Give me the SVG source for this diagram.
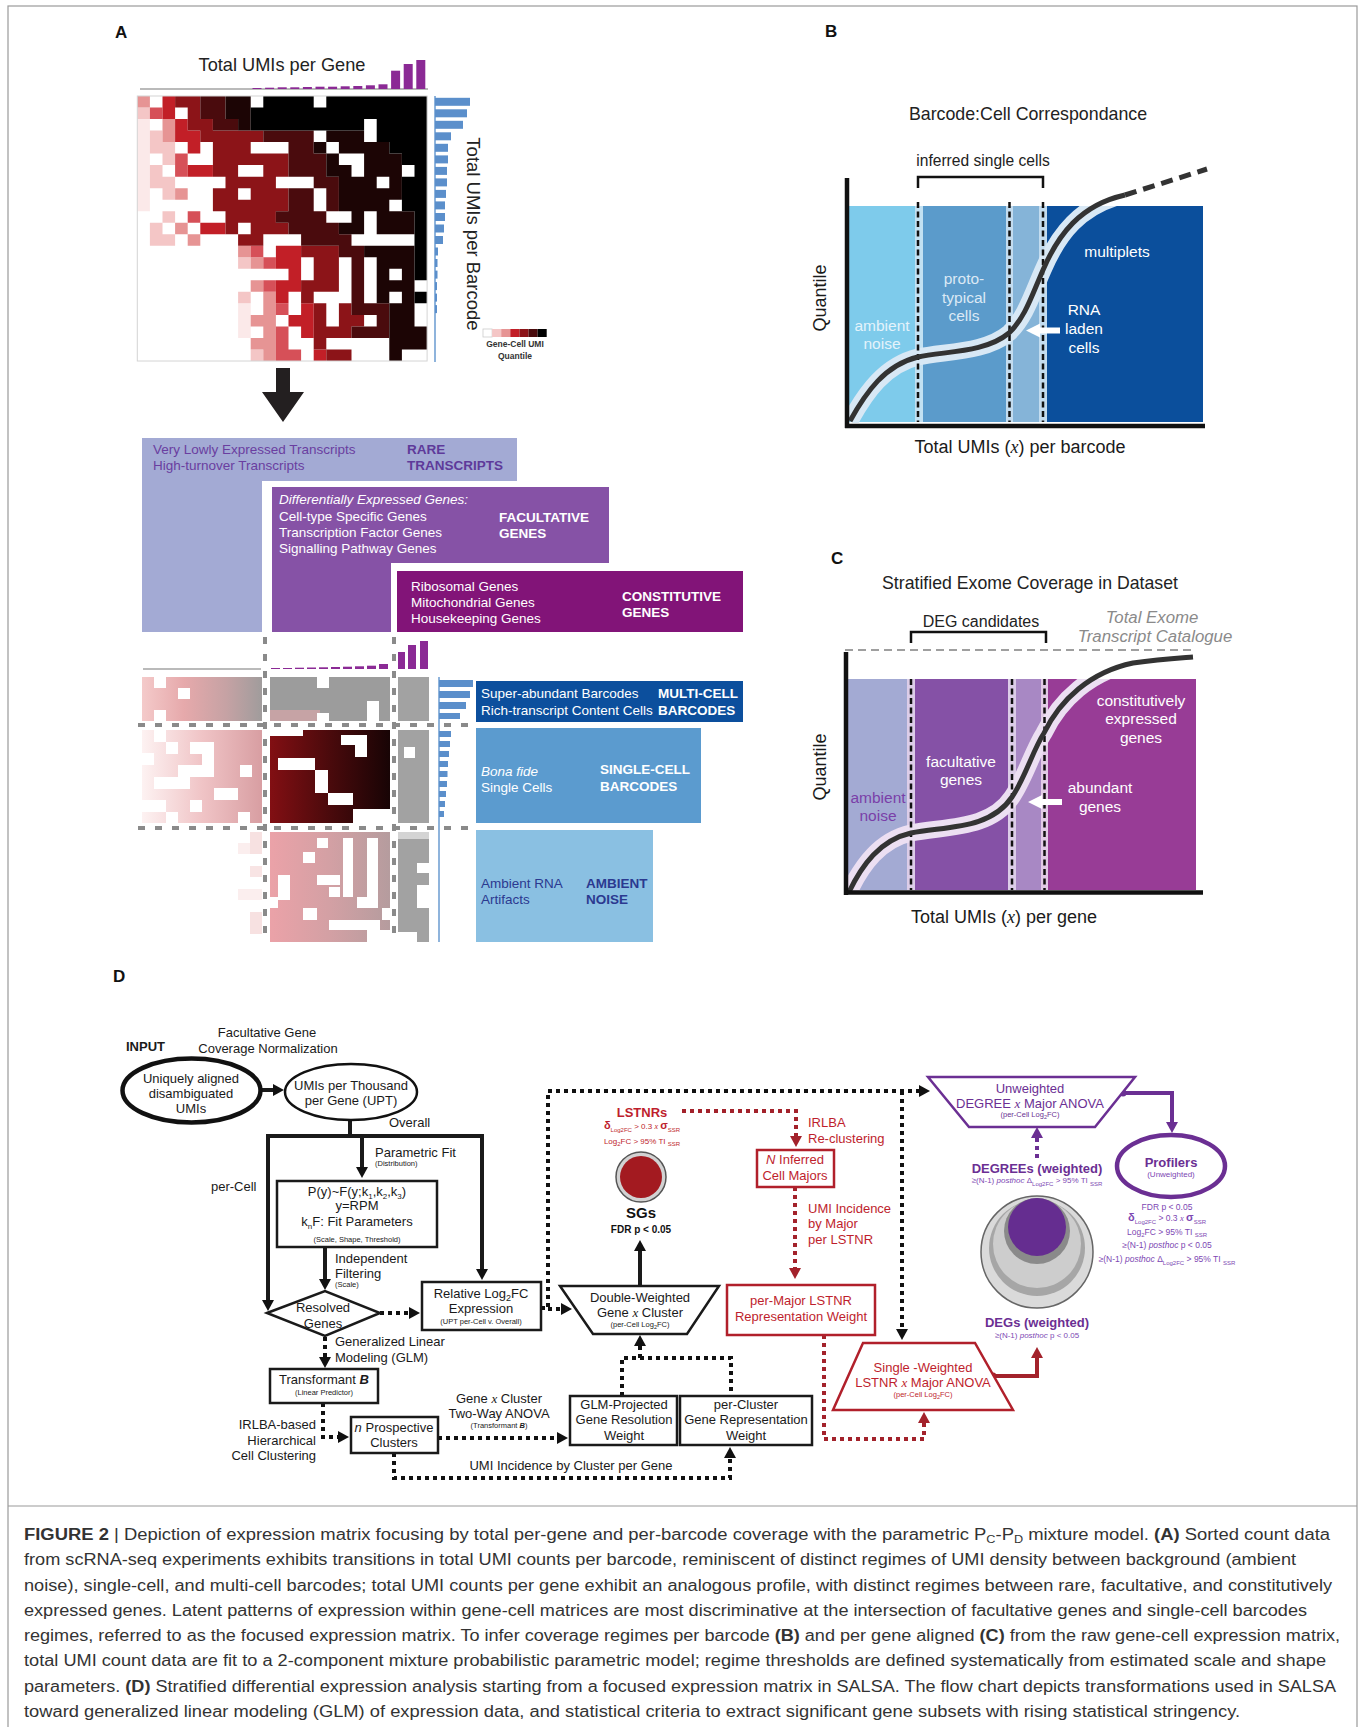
<svg xmlns="http://www.w3.org/2000/svg" width="1360" height="1727" viewBox="0 0 1360 1727">
<defs>
<style>
text{font-family:"Liberation Sans",Arial,Helvetica,sans-serif}
.lab{font-weight:bold;font-size:17px;fill:#111}
.w{fill:#fff}
.b{font-weight:bold}
.xs{font-family:"Liberation Serif","Times New Roman",serif;font-style:italic}
.ax{font-size:18px;fill:#1a1a1a}
.d{font-size:13px;fill:#1a1a1a}
.s{font-size:7.5px}
.r{fill:#be1e2d}
.p{fill:#6b2f93}
.pl{fill:#7d47b3}
.wh{fill:#fff}
.box{fill:#fff;stroke:#1a1a1a;stroke-width:2.5}
.rbox{fill:#fff;stroke:#b1202b;stroke-width:2.5}
.pbox{fill:#fff;stroke:#6b2f93;stroke-width:2.5}
.sol{fill:none;stroke:#1a1a1a;stroke-width:4}
.dot{fill:none;stroke:#111;stroke-width:4;stroke-dasharray:4 4}
.rdot{fill:none;stroke:#a3222b;stroke-width:4;stroke-dasharray:4 4}
.pdot{fill:none;stroke:#6b2f93;stroke-width:4;stroke-dasharray:4 4}
.gd{fill:none;stroke:#8a8a8a;stroke-width:4;stroke-dasharray:7 10}
.vd{fill:none;stroke:#111;stroke-width:2.5;stroke-dasharray:6 3.5}
.cap{font-size:16px;fill:#333}
.pb{fill:#8b2a95}
.bb{fill:#5b8fcb}
.at{font-size:13.5px}
.atb{font-size:13.5px;font-weight:bold}
.rl{font-size:15.5px;text-anchor:middle}
</style>
<marker id="ak" markerUnits="userSpaceOnUse" markerWidth="12" markerHeight="12" refX="0" refY="6" orient="auto"><path d="M0,0L11,6L0,12z" fill="#111"/></marker>
<marker id="ar" markerUnits="userSpaceOnUse" markerWidth="12" markerHeight="12" refX="0" refY="6" orient="auto"><path d="M0,0L11,6L0,12z" fill="#a3222b"/></marker>
<marker id="ap" markerUnits="userSpaceOnUse" markerWidth="12" markerHeight="12" refX="0" refY="6" orient="auto"><path d="M0,0L11,6L0,12z" fill="#6b2f93"/></marker>
<linearGradient id="gRM"><stop offset="0" stop-color="#f4caca"/><stop offset="0.35" stop-color="#e6a9ab"/><stop offset="0.7" stop-color="#c6a2a4"/><stop offset="1" stop-color="#a09c9c"/></linearGradient>
<linearGradient id="gRS"><stop offset="0" stop-color="#fdf2f2"/><stop offset="0.5" stop-color="#f0c4c6"/><stop offset="1" stop-color="#d89ea2"/></linearGradient>
<linearGradient id="gFS"><stop offset="0" stop-color="#820f13"/><stop offset="0.5" stop-color="#4a0a0c"/><stop offset="1" stop-color="#180405"/></linearGradient>
<linearGradient id="gFA"><stop offset="0" stop-color="#eba2a8"/><stop offset="0.5" stop-color="#d3a0a4"/><stop offset="1" stop-color="#b59c9e"/></linearGradient>
<clipPath id="cB"><rect x="849" y="206" width="355" height="217"/></clipPath>
<clipPath id="cC"><rect x="848" y="679" width="348" height="212"/></clipPath>
</defs>
<rect width="1360" height="1727" fill="#fff"/>
<rect x="8" y="6" width="1349" height="1722" fill="none" stroke="#9a9a9a" stroke-width="1.2"/>
<line x1="8" y1="1506" x2="1357" y2="1506" stroke="#9a9a9a" stroke-width="1.2"/>

<!-- ============ PANEL A ============ -->
<g id="panelA">
<text class="lab" x="115" y="38">A</text>
<text x="282" y="71" font-size="18.2" text-anchor="middle" fill="#222">Total UMIs per Gene</text>
<line x1="140" y1="89" x2="428" y2="89" stroke="#777" stroke-width="1.2"/>
<g id="gene-bars">
<rect class="pb" x="252.5" y="88" width="9" height="1"/>
<rect class="pb" x="265.1" y="87.7" width="9" height="1.3"/>
<rect class="pb" x="277.7" y="87.3" width="9" height="1.7"/>
<rect class="pb" x="290.3" y="87.3" width="9" height="1.7"/>
<rect class="pb" x="302.9" y="87" width="9" height="2"/>
<rect class="pb" x="315.5" y="86.7" width="9" height="2.3"/>
<rect class="pb" x="328.1" y="86.7" width="9" height="2.3"/>
<rect class="pb" x="340.7" y="86.3" width="9" height="2.7"/>
<rect class="pb" x="353.3" y="86" width="9" height="3"/>
<rect class="pb" x="365.9" y="85.3" width="9" height="3.7"/>
<rect class="pb" x="378.5" y="84.3" width="9" height="4.7"/>
<rect class="pb" x="391.1" y="70.7" width="9" height="18.3"/>
<rect class="pb" x="403.7" y="64" width="9" height="25"/>
<rect class="pb" x="416.3" y="60" width="9" height="29"/>
</g>
<g id="heatmap" transform="translate(137.3,96) scale(12.6,11.52)">
<path fill="#fbe9e9" d="M0 2h1v8h-1zM8 18h1v3h-1z"/>
<path fill="#f4c6c6" d="M0 1h1v1h-1zM1 3h1v1h-1zM1 4h2v1h-2zM2 5h1v1h-1zM1 6h1v1h-1zM1 7h2v1h-2zM2 8h1v1h-1zM2 10h1v1h-1zM1 11h1v1h-1zM1 12h2v1h-2zM8 14h1v1h-1zM8 17h1v1h-1zM9 22h1v1h-1z"/>
<path fill="#e69494" d="M0 0h1v1h-1zM2 2h1v2h-1zM3 8h1v1h-1zM3 11h1v1h-1zM4 12h1v1h-1zM8 13h1v1h-1zM9 14h1v1h-1zM9 16h1v1h-1zM10 17h1v2h-1zM9 19h2v1h-2zM10 20h1v1h-1zM9 21h2v1h-2zM10 22h1v1h-1z"/>
<path fill="#d65058" d="M1 1h1v1h-1zM3 5h1v2h-1zM4 10h1v1h-1zM9 13h1v1h-1zM10 14h1v1h-1zM10 16h1v1h-1zM11 18h1v1h-1zM11 20h1v2h-1zM11 22h2v1h-2z"/>
<path fill="#c21f27" d="M2 0h1v2h-1zM3 2h1v1h-1zM3 3h2v1h-2zM4 4h1v1h-1zM4 6h2v1h-2zM5 11h2v1h-2zM11 13h2v2h-2zM12 15h1v1h-1zM11 16h2v1h-2zM11 17h1v1h-1zM13 18h1v1h-1zM12 19h2v1h-2zM13 20h1v1h-1zM14 22h1v1h-1z"/>
<path fill="#8c1418" d="M3 0h2v1h-2zM4 1h1v1h-1zM4 2h2v1h-2zM5 3h5v1h-5zM6 4h3v1h-3zM6 5h6v1h-6zM6 6h2v1h-2zM10 6h2v1h-2zM7 7h4v1h-4zM6 8h2v1h-2zM9 8h3v1h-3zM6 9h6v1h-6zM7 10h4v1h-4zM7 11h1v1h-1zM9 11h3v1h-3zM8 12h2v1h-2zM13 13h3v1h-3zM14 14h2v2h-2zM13 16h3v1h-3zM13 17h1v1h-1zM14 18h1v2h-1zM16 18h1v1h-1zM16 19h2v1h-2zM14 20h3v1h-3zM14 21h1v1h-1zM15 22h2v1h-2z"/>
<path fill="#4a0b0d" d="M5 0h2v2h-2zM6 2h2v1h-2zM10 3h4v1h-4zM12 4h2v1h-2zM12 5h3v2h-3zM14 7h2v1h-2zM12 8h2v2h-2zM15 8h1v2h-1zM11 10h4v1h-4zM12 11h4v1h-4zM13 12h4v1h-4zM16 13h2v1h-2zM17 14h1v4h-1zM17 18h3v1h-3zM19 19h1v1h-1zM17 20h3v1h-3z"/>
<path fill="#1c0505" d="M7 0h2v2h-2zM8 2h1v1h-1zM15 3h3v1h-3zM14 4h1v1h-1zM16 4h4v1h-4zM15 5h1v1h-1zM18 5h3v2h-3zM15 6h2v1h-2zM16 7h3v1h-3zM20 7h1v1h-1zM16 8h5v1h-5zM16 9h4v1h-4zM17 10h1v1h-1zM19 10h3v2h-3zM16 11h2v1h-2zM18 13h4v1h-4zM19 14h3v1h-3zM19 15h1v1h-1zM21 15h1v1h-1zM19 16h3v1h-3zM19 17h1v1h-1zM21 17h1v1h-1zM20 18h2v2h-2zM20 20h3v2h-3zM20 22h1v1h-1z"/>
<path fill="#000" d="M10 0h4v1h-4zM15 0h8v1h-8zM9 1h14v1h-14zM9 2h9v1h-9zM19 2h4v2h-4zM20 4h3v1h-3zM21 5h2v1h-2zM22 6h1v1h-1zM21 7h2v3h-2zM22 10h1v6h-1zM22 17h1v1h-1z"/>
</g>
<rect x="137.3" y="96" width="289.8" height="265" fill="none" stroke="#d4d4d4" stroke-width="1"/>
<g id="barcode-bars">
<line x1="435" y1="96" x2="435" y2="362" stroke="#6a9bd0" stroke-width="1.5"/>
<rect class="bb" x="435" y="97.8" width="35" height="8"/>
<rect class="bb" x="435" y="109.3" width="32" height="8"/>
<rect class="bb" x="435" y="120.8" width="28" height="8"/>
<rect class="bb" x="435" y="132.3" width="16" height="8"/>
<rect class="bb" x="435" y="143.8" width="13" height="8"/>
<rect class="bb" x="435" y="155.4" width="13" height="8"/>
<rect class="bb" x="435" y="166.9" width="12" height="8"/>
<rect class="bb" x="435" y="178.4" width="12" height="8"/>
<rect class="bb" x="435" y="189.9" width="11" height="8"/>
<rect class="bb" x="435" y="201.4" width="10" height="8"/>
<rect class="bb" x="435" y="213" width="10" height="8"/>
<rect class="bb" x="435" y="224.5" width="9" height="8"/>
<rect class="bb" x="435" y="236" width="8" height="8"/>
<rect class="bb" x="435" y="247.5" width="3" height="8"/>
<rect class="bb" x="435" y="259" width="2.5" height="8"/>
<rect class="bb" x="435" y="270.6" width="2.5" height="8"/>
<rect class="bb" x="435" y="282.1" width="2" height="8"/>
<rect class="bb" x="435" y="293.6" width="2" height="8"/>
<rect class="bb" x="435" y="305.1" width="2" height="8"/>
</g>
<text transform="translate(467,234) rotate(90)" font-size="18.5" text-anchor="middle" fill="#222">Total UMIs per Barcode</text>
<g id="legend">
<rect x="483" y="329" width="9.1" height="8" fill="#fff" stroke="#ccc" stroke-width="0.8"/>
<rect x="492.1" y="329" width="9.1" height="8" fill="#f4c6c6"/>
<rect x="501.2" y="329" width="9.1" height="8" fill="#e69494"/>
<rect x="510.3" y="329" width="9.1" height="8" fill="#c21f27"/>
<rect x="519.4" y="329" width="9.1" height="8" fill="#8c1418"/>
<rect x="528.5" y="329" width="9.1" height="8" fill="#4a0b0d"/>
<rect x="537.6" y="329" width="9.1" height="8" fill="#000"/>
<text x="515" y="347" font-size="8.5" font-weight="bold" text-anchor="middle" fill="#333">Gene-Cell UMI</text>
<text x="515" y="359" font-size="8.5" font-weight="bold" text-anchor="middle" fill="#333">Quantile</text>
</g>
<polygon points="276,368 290,368 290,392 304,392 283,422 262,392 276,392" fill="#231f20"/>

<g id="regime-gene-boxes">
<polygon points="142,438 517,438 517,481 262,481 262,632 142,632" fill="#a3aad4"/>
<polygon points="272,487 609,487 609,563 391,563 391,632 272,632" fill="#8652a6"/>
<rect x="397" y="571" width="346" height="61" fill="#821478"/>
<text class="at" x="153" y="454" fill="#6a3ea0">Very Lowly Expressed Transcripts</text>
<text class="at" x="153" y="470" fill="#6a3ea0">High-turnover Transcripts</text>
<text class="atb" x="407" y="454" fill="#5e3a9a">RARE</text>
<text class="atb" x="407" y="470" fill="#5e3a9a">TRANSCRIPTS</text>
<text class="at w" x="279" y="504" font-style="italic">Differentially Expressed Genes:</text>
<text class="at w" x="279" y="521">Cell-type Specific Genes</text>
<text class="at w" x="279" y="537">Transcription Factor Genes</text>
<text class="at w" x="279" y="553">Signalling Pathway Genes</text>
<text class="atb w" x="499" y="522">FACULTATIVE</text>
<text class="atb w" x="499" y="538">GENES</text>
<text class="at w" x="411" y="591">Ribosomal Genes</text>
<text class="at w" x="411" y="607">Mitochondrial Genes</text>
<text class="at w" x="411" y="623">Housekeeping Genes</text>
<text class="atb w" x="622" y="601">CONSTITUTIVE</text>
<text class="atb w" x="622" y="617">GENES</text>
</g>

<g id="focused-matrix">
<line x1="143" y1="669" x2="261" y2="669" stroke="#777" stroke-width="1.2"/>
<rect class="pb" x="271" y="668" width="9" height="1"/>
<rect class="pb" x="283" y="668" width="9" height="1"/>
<rect class="pb" x="295" y="667.7" width="9" height="1.3"/>
<rect class="pb" x="307" y="667.5" width="9" height="1.5"/>
<rect class="pb" x="319" y="667.3" width="9" height="1.7"/>
<rect class="pb" x="331" y="667" width="9" height="2"/>
<rect class="pb" x="343" y="666.7" width="9" height="2.3"/>
<rect class="pb" x="355" y="666.3" width="9" height="2.7"/>
<rect class="pb" x="367" y="665.7" width="9" height="3.3"/>
<rect class="pb" x="379" y="664" width="9" height="5"/>
<rect class="pb" x="398" y="652" width="7" height="17"/>
<rect class="pb" x="408" y="645" width="8" height="24"/>
<rect class="pb" x="420" y="641" width="8" height="28"/>
<rect x="142" y="677" width="120" height="44" fill="url(#gRM)"/>
<rect class="wh" x="154" y="677" width="12" height="11"/>
<rect class="wh" x="178" y="688" width="12" height="11"/>
<rect class="wh" x="154" y="710" width="12" height="11"/>
<rect x="142" y="730" width="120" height="93" fill="url(#gRS)"/>
<rect class="wh" x="154" y="730" width="12" height="12"/>
<rect class="wh" x="190" y="742" width="24" height="12"/>
<rect class="wh" x="166" y="742" width="12" height="12"/>
<rect class="wh" x="142" y="753" width="12" height="12"/>
<rect class="wh" x="202" y="753" width="12" height="12"/>
<rect class="wh" x="178" y="765" width="36" height="12"/>
<rect class="wh" x="240" y="765" width="12" height="12"/>
<rect class="wh" x="154" y="777" width="36" height="12"/>
<rect class="wh" x="214" y="788" width="24" height="12"/>
<rect class="wh" x="142" y="800" width="24" height="12"/>
<rect class="wh" x="190" y="800" width="12" height="12"/>
<rect class="wh" x="166" y="812" width="12" height="11"/>
<rect class="wh" x="238" y="812" width="12" height="11"/>
<rect x="250" y="832" width="12" height="22" fill="#f7e1e1"/>
<rect x="238" y="843" width="12" height="11" fill="#fbeeee"/>
<rect x="250" y="866" width="12" height="11" fill="#f8e4e4"/>
<rect x="238" y="889" width="24" height="11" fill="#fbeeee"/>
<rect x="250" y="912" width="12" height="22" fill="#f7e1e1"/>
<rect x="270" y="677" width="120" height="44" fill="#9c9c9c"/>
<rect x="270" y="710" width="50" height="11" fill="#c6a3a5"/>
<rect class="wh" x="317" y="677" width="12" height="11"/>
<rect class="wh" x="367" y="701" width="12" height="20"/>
<rect class="wh" x="317" y="713" width="12" height="8"/>
<rect x="270" y="730" width="120" height="93" fill="url(#gFS)"/>
<rect class="wh" x="270" y="730" width="33" height="6"/>
<rect class="wh" x="278" y="758" width="37" height="12"/>
<rect class="wh" x="315" y="770" width="13" height="23"/>
<rect class="wh" x="328" y="793" width="25" height="12"/>
<rect class="wh" x="341" y="735" width="16" height="10"/>
<rect class="wh" x="355" y="735" width="12" height="22"/>
<rect class="wh" x="353" y="809" width="37" height="14"/>
<rect x="270" y="832" width="120" height="110" fill="url(#gFA)"/>
<rect class="wh" x="303" y="852" width="12" height="11"/>
<rect class="wh" x="317" y="838" width="11" height="10"/>
<rect class="wh" x="278" y="875" width="12" height="25"/>
<rect class="wh" x="317" y="875" width="23" height="10"/>
<rect class="wh" x="343" y="838" width="10" height="59"/>
<rect class="wh" x="367" y="838" width="11" height="70"/>
<rect class="wh" x="329" y="887" width="11" height="10"/>
<rect class="wh" x="270" y="897" width="8" height="11"/>
<rect class="wh" x="303" y="908" width="14" height="12"/>
<rect class="wh" x="357" y="897" width="10" height="11"/>
<rect class="wh" x="382" y="908" width="8" height="12"/>
<rect class="wh" x="329" y="920" width="51" height="10"/>
<rect class="wh" x="367" y="930" width="23" height="12"/>
<rect x="398" y="677" width="31" height="44" fill="#a2a2a2"/>
<rect x="398" y="730" width="31" height="93" fill="#a2a2a2"/>
<rect class="wh" x="404" y="747" width="11" height="11"/>
<rect x="398" y="832" width="31" height="110" fill="#a2a2a2"/>
<rect x="398" y="832" width="31" height="7" fill="#d4d4d4"/>
<rect class="wh" x="417" y="863" width="12" height="10"/>
<rect class="wh" x="417" y="885" width="12" height="23"/>
<rect class="wh" x="398" y="932" width="19" height="10"/>
<line x1="439" y1="677" x2="439" y2="942" stroke="#6a9bd0" stroke-width="1.5"/>
<rect class="bb" x="439" y="680" width="34" height="7"/>
<rect class="bb" x="439" y="691" width="31" height="7"/>
<rect class="bb" x="439" y="702" width="27" height="7"/>
<rect class="bb" x="439" y="713" width="21" height="6"/>
<rect class="bb" x="439" y="731" width="12" height="6"/>
<rect class="bb" x="439" y="741" width="11" height="6"/>
<rect class="bb" x="439" y="751" width="10" height="6"/>
<rect class="bb" x="439" y="761" width="9" height="6"/>
<rect class="bb" x="439" y="771" width="8.5" height="6"/>
<rect class="bb" x="439" y="781" width="8" height="6"/>
<rect class="bb" x="439" y="791" width="7" height="6"/>
<rect class="bb" x="439" y="801" width="6" height="6"/>
<rect class="bb" x="439" y="811" width="5" height="6"/>
<line class="gd" x1="265" y1="637" x2="265" y2="942"/>
<line class="gd" x1="394" y1="637" x2="394" y2="942"/>
<line class="gd" x1="138" y1="725" x2="476" y2="725"/>
<line class="gd" x1="138" y1="828" x2="476" y2="828"/>
</g>

<g id="regime-barcode-boxes">
<rect x="476" y="681" width="267" height="41" fill="#0c4f9d"/>
<text class="at w" x="481" y="698">Super-abundant Barcodes</text>
<text class="at w" x="481" y="715">Rich-transcript Content Cells</text>
<text class="atb w" x="658" y="698">MULTI-CELL</text>
<text class="atb w" x="658" y="715">BARCODES</text>
<rect x="476" y="728" width="225" height="95" fill="#5b9bcf"/>
<text class="at w" x="481" y="776" font-style="italic">Bona fide</text>
<text class="at w" x="481" y="792">Single Cells</text>
<text class="atb w" x="600" y="774">SINGLE-CELL</text>
<text class="atb w" x="600" y="791">BARCODES</text>
<rect x="476" y="830" width="177" height="112" fill="#8ac0e2"/>
<text class="at" x="481" y="888" fill="#2b3990">Ambient RNA</text>
<text class="at" x="481" y="904" fill="#2b3990">Artifacts</text>
<text class="atb" x="586" y="888" fill="#2b3990">AMBIENT</text>
<text class="atb" x="586" y="904" fill="#2b3990">NOISE</text>
</g>
</g>

<!-- ============ PANEL B ============ -->
<g id="panelB">
<text class="lab" x="825" y="37">B</text>
<text x="1028" y="120" font-size="17.8" text-anchor="middle" fill="#222">Barcode:Cell Correspondance</text>
<text x="983" y="166" font-size="15.6" text-anchor="middle" fill="#222">inferred single cells</text>
<path d="M918,188V177H1043V188" fill="none" stroke="#111" stroke-width="2.5"/>
<rect x="849" y="206" width="66" height="216" fill="#7ecbeb"/>
<rect x="915" y="206" width="8" height="216" fill="#c3e1f2"/>
<rect x="923" y="206" width="83" height="216" fill="#5b9bcb"/>
<rect x="1006" y="206" width="7" height="216" fill="#c3dcef"/>
<rect x="1013" y="206" width="26" height="216" fill="#85b4d8"/>
<rect x="1039" y="206" width="8" height="216" fill="#c3dcef"/>
<rect x="1047" y="206" width="156" height="216" fill="#0b4f9c"/>
<path d="M850,421C866,392 885,365 918,357C945,351 985,353 1009,333C1025,318 1032,295 1043,270C1058,235 1080,205 1125,195" fill="none" stroke="#d8e8f5" stroke-width="17" clip-path="url(#cB)"/>
<line class="vd" x1="918" y1="202" x2="918" y2="422"/>
<line class="vd" x1="1009.5" y1="202" x2="1009.5" y2="422"/>
<line class="vd" x1="1043" y1="202" x2="1043" y2="422"/>
<path d="M850,421C866,392 885,365 918,357C945,351 985,353 1009,333C1025,318 1032,295 1043,270C1058,235 1080,205 1125,195" fill="none" stroke="#333" stroke-width="5"/>
<path d="M1125,195L1207,169" fill="none" stroke="#333" stroke-width="5" stroke-dasharray="12 7"/>
<line x1="847" y1="178" x2="847" y2="428" stroke="#111" stroke-width="4.5"/>
<line x1="845" y1="426" x2="1205" y2="426" stroke="#111" stroke-width="4.5"/>
<text class="rl" x="882" y="331" fill="#e4f3fb">ambient</text>
<text class="rl" x="882" y="349" fill="#e4f3fb">noise</text>
<text class="rl" x="964" y="284" fill="#dbe9f5">proto-</text>
<text class="rl" x="964" y="303" fill="#dbe9f5">typical</text>
<text class="rl" x="964" y="321" fill="#dbe9f5">cells</text>
<text class="rl w" x="1117" y="257">multiplets</text>
<text class="rl w" x="1084" y="315">RNA</text>
<text class="rl w" x="1084" y="334">laden</text>
<text class="rl w" x="1084" y="353">cells</text>
<polygon points="1060,327.5 1040,327.5 1040,323.5 1026,330.5 1040,337.5 1040,333.5 1060,333.5" fill="#fff"/>
<text class="ax" transform="translate(826,298) rotate(-90)" text-anchor="middle">Quantile</text>
<text class="ax" x="1020" y="453" text-anchor="middle">Total UMIs (<tspan class="xs">x</tspan>) per barcode</text>
</g>

<!-- ============ PANEL C ============ -->
<g id="panelC">
<text class="lab" x="831" y="564">C</text>
<text x="1030" y="589" font-size="17.7" text-anchor="middle" fill="#222">Stratified Exome Coverage in Dataset</text>
<text x="981" y="627" font-size="16" text-anchor="middle" fill="#222">DEG candidates</text>
<text x="1152" y="623" font-size="16.8" font-style="italic" text-anchor="middle" fill="#8a8a8a">Total Exome</text>
<text x="1155" y="642" font-size="16.8" font-style="italic" text-anchor="middle" fill="#8a8a8a">Transcript Catalogue</text>
<path d="M911,643V632H1046V643" fill="none" stroke="#111" stroke-width="2.5"/>
<line x1="845" y1="650" x2="1192" y2="650" stroke="#808080" stroke-width="1.5" stroke-dasharray="8 5"/>
<rect x="848" y="679" width="59" height="211" fill="#a3aad3"/>
<rect x="907" y="679" width="8" height="211" fill="#dccde8"/>
<rect x="915" y="679" width="93" height="211" fill="#8551a6"/>
<rect x="1008" y="679" width="8" height="211" fill="#dccde8"/>
<rect x="1016" y="679" width="25" height="211" fill="#a888c4"/>
<rect x="1041" y="679" width="7" height="211" fill="#e2cbe6"/>
<rect x="1048" y="679" width="148" height="211" fill="#983c96"/>
<path d="M849,892C862,865 880,840 911,833C945,826 990,830 1012,797C1025,778 1033,750 1044,733C1060,700 1090,672 1133,663C1160,659 1180,658 1193,657" fill="none" stroke="#ecdff2" stroke-width="17" clip-path="url(#cC)"/>
<line class="vd" x1="911" y1="679" x2="911" y2="890"/>
<line class="vd" x1="1012" y1="679" x2="1012" y2="890"/>
<line class="vd" x1="1044.5" y1="679" x2="1044.5" y2="890"/>
<path d="M849,892C862,865 880,840 911,833C945,826 990,830 1012,797C1025,778 1033,750 1044,733C1060,700 1090,672 1133,663C1160,659 1180,658 1193,657" fill="none" stroke="#333" stroke-width="5"/>
<line x1="846" y1="652" x2="846" y2="895" stroke="#111" stroke-width="4.5"/>
<line x1="844" y1="892.5" x2="1203" y2="892.5" stroke="#111" stroke-width="4.5"/>
<text class="rl" x="878" y="803" fill="#7a3fa8">ambient</text>
<text class="rl" x="878" y="821" fill="#7a3fa8">noise</text>
<text class="rl w" x="961" y="767">facultative</text>
<text class="rl w" x="961" y="785">genes</text>
<text class="rl w" x="1141" y="706">constitutively</text>
<text class="rl w" x="1141" y="724">expressed</text>
<text class="rl w" x="1141" y="743">genes</text>
<text class="rl w" x="1100" y="793">abundant</text>
<text class="rl w" x="1100" y="812">genes</text>
<polygon points="1062,799 1042,799 1042,795 1028,802 1042,809 1042,805 1062,805" fill="#fff"/>
<text class="ax" transform="translate(826,767) rotate(-90)" text-anchor="middle">Quantile</text>
<text class="ax" x="1004" y="923" text-anchor="middle">Total UMIs (<tspan class="xs">x</tspan>) per gene</text>
</g>

<!-- ============ PANEL D ============ -->
<g id="panelD">
<text class="lab" x="113" y="982">D</text>
<text class="d b" x="126" y="1051">INPUT</text>
<text class="d" x="267" y="1037" text-anchor="middle">Facultative Gene</text>
<text class="d" x="268" y="1053" text-anchor="middle">Coverage Normalization</text>

<g id="connectors">
<path class="sol" d="M261,1090H273" marker-end="url(#ak)"/>
<path class="sol" d="M350,1120V1136H268V1300" marker-end="url(#ak)"/>
<path class="sol" d="M350,1136H482V1269" marker-end="url(#ak)"/>
<path class="sol" d="M362,1136V1167" marker-end="url(#ak)"/>
<path class="sol" d="M325,1247V1279" marker-end="url(#ak)"/>
<path class="dot" d="M380,1313H409" marker-end="url(#ak)"/>
<path class="dot" d="M325,1337V1357" marker-end="url(#ak)"/>
<path class="dot" d="M323,1403V1437H338" marker-end="url(#ak)"/>
<path class="dot" d="M438,1438H557" marker-end="url(#ak)"/>
<path class="dot" d="M394,1453V1478H730V1458" marker-end="url(#ak)"/>
<path class="dot" d="M541,1308H548V1091H919" marker-end="url(#ak)"/>
<path class="dot" d="M548,1309H561" marker-end="url(#ak)"/>
<path class="dot" d="M902,1091V1329" marker-end="url(#ak)"/>
<path class="sol" d="M640,1286V1251" marker-end="url(#ak)"/>
<path class="dot" d="M622,1396V1358H731V1396"/>
<path class="dot" d="M640,1358V1346" marker-end="url(#ak)"/>
<path class="rdot" d="M682,1111H796V1136" marker-end="url(#ar)"/>
<path class="rdot" d="M795,1187V1268" marker-end="url(#ar)"/>
<path class="rdot" d="M824,1335V1439H924V1423" marker-end="url(#ar)"/>
<path d="M993,1376H1037V1358" fill="none" stroke="#a3222b" stroke-width="4" marker-end="url(#ar)"/>
<circle cx="993" cy="1376" r="3.5" fill="#a3222b"/>
<path d="M1123,1093H1172V1122" fill="none" stroke="#6b2f93" stroke-width="4" marker-end="url(#ap)"/>
<circle cx="1123" cy="1093" r="3.5" fill="#6b2f93"/>
<path class="pdot" d="M1037,1158V1138" marker-end="url(#ap)"/>
</g>

<g id="n-input">
<ellipse cx="191.5" cy="1090.5" rx="69" ry="32" fill="#fff" stroke="#111" stroke-width="4.5"/>
<text class="d" x="191" y="1083" text-anchor="middle">Uniquely aligned</text>
<text class="d" x="191" y="1098" text-anchor="middle">disambiguated</text>
<text class="d" x="191" y="1113" text-anchor="middle">UMIs</text>
</g>
<g id="n-upt">
<ellipse cx="351" cy="1092" rx="66" ry="28" fill="#fff" stroke="#111" stroke-width="2.5"/>
<text class="d" x="351" y="1090" text-anchor="middle">UMIs per Thousand</text>
<text class="d" x="351" y="1105" text-anchor="middle">per Gene (UPT)</text>
</g>
<text class="d" x="389" y="1127">Overall</text>
<text class="d" x="375" y="1157">Parametric Fit</text>
<text class="d s" x="375" y="1166">(Distribution)</text>
<text class="d" x="211" y="1191">per-Cell</text>
<g id="n-fit">
<rect class="box" x="277" y="1181" width="160" height="66"/>
<text class="d" x="357" y="1196" text-anchor="middle">P(y)~F(y;k<tspan font-size="8" dy="3">1</tspan><tspan dy="-3">,k</tspan><tspan font-size="8" dy="3">2</tspan><tspan dy="-3">,k</tspan><tspan font-size="8" dy="3">3</tspan><tspan dy="-3">)</tspan></text>
<text class="d" x="357" y="1210" text-anchor="middle">y=RPM</text>
<text class="d" x="357" y="1226" text-anchor="middle">k<tspan font-size="8" dy="3">n</tspan><tspan dy="-3">F: Fit Parameters</tspan></text>
<text class="d s" x="357" y="1242" text-anchor="middle">(Scale, Shape, Threshold)</text>
</g>
<text class="d" x="335" y="1263">Independent</text>
<text class="d" x="335" y="1278">Filtering</text>
<text class="d s" x="335" y="1287">(Scale)</text>
<g id="n-resolved">
<polygon class="box" points="267,1313 325,1291 380,1313 325,1336"/>
<text class="d" x="323" y="1312" text-anchor="middle">Resolved</text>
<text class="d" x="323" y="1328" text-anchor="middle">Genes</text>
</g>
<g id="n-relative">
<rect class="box" x="422" y="1282" width="119" height="48"/>
<text class="d" x="481" y="1298" text-anchor="middle">Relative Log<tspan font-size="9" dy="3">2</tspan><tspan dy="-3">FC</tspan></text>
<text class="d" x="481" y="1313" text-anchor="middle">Expression</text>
<text class="d s" x="481" y="1324" text-anchor="middle">(UPT per-Cell v. Overall)</text>
</g>
<text class="d" x="335" y="1346">Generalized Linear</text>
<text class="d" x="335" y="1362">Modeling (GLM)</text>
<g id="n-transformant">
<rect class="box" x="270" y="1369" width="108" height="34"/>
<text class="d" x="324" y="1384" text-anchor="middle">Transformant <tspan font-weight="bold" font-style="italic">B</tspan></text>
<text class="d s" x="324" y="1395" text-anchor="middle">(Linear Predictor)</text>
</g>
<text class="d" x="316" y="1429" text-anchor="end">IRLBA-based</text>
<text class="d" x="316" y="1445" text-anchor="end">Hierarchical</text>
<text class="d" x="316" y="1460" text-anchor="end">Cell Clustering</text>
<g id="n-prospective">
<rect class="box" x="351" y="1417" width="87" height="36"/>
<text class="d" x="394" y="1432" text-anchor="middle"><tspan font-style="italic">n</tspan> Prospective</text>
<text class="d" x="394" y="1447" text-anchor="middle">Clusters</text>
</g>
<text class="d" x="499" y="1403" text-anchor="middle">Gene <tspan class="xs">x</tspan> Cluster</text>
<text class="d" x="499" y="1418" text-anchor="middle">Two-Way ANOVA</text>
<text class="d s" x="499" y="1428" text-anchor="middle">(Transformant <tspan font-weight="bold" font-style="italic">B</tspan>)</text>
<text class="d" x="571" y="1470" text-anchor="middle">UMI Incidence by Cluster per Gene</text>
<g id="n-glm">
<rect class="box" x="570" y="1396" width="107" height="49"/>
<text class="d" x="624" y="1409" text-anchor="middle">GLM-Projected</text>
<text class="d" x="624" y="1424" text-anchor="middle">Gene Resolution</text>
<text class="d" x="624" y="1440" text-anchor="middle">Weight</text>
</g>
<g id="n-percluster">
<rect class="box" x="680" y="1396" width="132" height="49"/>
<text class="d" x="746" y="1409" text-anchor="middle">per-Cluster</text>
<text class="d" x="746" y="1424" text-anchor="middle">Gene Representation</text>
<text class="d" x="746" y="1440" text-anchor="middle">Weight</text>
</g>
<g id="n-double">
<polygon class="box" points="560,1286 719,1286 687,1334 593,1334"/>
<text class="d" x="640" y="1302" text-anchor="middle">Double-Weighted</text>
<text class="d" x="640" y="1317" text-anchor="middle">Gene <tspan class="xs">x</tspan> Cluster</text>
<text class="d s" x="640" y="1327" text-anchor="middle">(per-Cell Log<tspan font-size="5.5" dy="2">2</tspan><tspan dy="-2">FC)</tspan></text>
</g>
<g id="n-sgs">
<circle cx="641" cy="1177" r="25" fill="#d2d2d2" stroke="#555" stroke-width="1.5"/>
<circle cx="641" cy="1177" r="21" fill="#a31a20"/>
<text x="641" y="1218" font-size="15" font-weight="bold" text-anchor="middle" fill="#111">SGs</text>
<text x="641" y="1233" font-size="10" font-weight="bold" text-anchor="middle" fill="#111">FDR p &lt; 0.05</text>
</g>
<g id="n-lstnr">
<text x="642" y="1117" font-size="13" font-weight="bold" text-anchor="middle" class="r">LSTNRs</text>
<text x="642" y="1129" font-size="8" text-anchor="middle" class="r"><tspan font-weight="bold" font-size="11">δ</tspan><tspan font-size="6" dy="2.5">Log2FC</tspan><tspan dy="-2.5"> &gt; 0.3 </tspan><tspan class="xs">x</tspan> <tspan font-weight="bold" font-size="11">σ</tspan><tspan font-size="6" dy="2.5">SSR</tspan></text>
<text x="642" y="1144" font-size="8" text-anchor="middle" class="r">Log<tspan font-size="6" dy="2">2</tspan><tspan dy="-2">FC &gt; 95% TI </tspan><tspan font-size="6" dy="2">SSR</tspan></text>
</g>
<text class="d r" x="808" y="1127">IRLBA</text>
<text class="d r" x="808" y="1143">Re-clustering</text>
<g id="n-majors">
<rect class="rbox" x="757" y="1150" width="77" height="37"/>
<text class="d r" x="795" y="1164" text-anchor="middle"><tspan font-style="italic">N</tspan> Inferred</text>
<text class="d r" x="795" y="1180" text-anchor="middle">Cell Majors</text>
</g>
<text class="d r" x="808" y="1213">UMI Incidence</text>
<text class="d r" x="808" y="1228">by Major</text>
<text class="d r" x="808" y="1244">per LSTNR</text>
<g id="n-permajor">
<rect class="rbox" x="727" y="1285" width="148" height="50"/>
<text class="d r" x="801" y="1305" text-anchor="middle">per-Major LSTNR</text>
<text class="d r" x="801" y="1321" text-anchor="middle">Representation Weight</text>
</g>
<g id="n-single">
<polygon class="rbox" points="863,1343 975,1343 1013,1410 833,1410"/>
<text class="d r" x="923" y="1372" text-anchor="middle">Single -Weighted</text>
<text class="d r" x="923" y="1387" text-anchor="middle">LSTNR <tspan class="xs">x</tspan> Major ANOVA</text>
<text class="d s r" x="923" y="1397" text-anchor="middle">(per-Cell Log<tspan font-size="5.5" dy="2">2</tspan><tspan dy="-2">FC)</tspan></text>
</g>
<g id="n-unweighted">
<polygon class="pbox" points="928,1077 1135,1077 1095,1127 969,1127"/>
<text class="d p" x="1030" y="1093" text-anchor="middle">Unweighted</text>
<text class="d p" x="1030" y="1108" text-anchor="middle">DEGREE <tspan class="xs">x</tspan> Major ANOVA</text>
<text class="d s p" x="1030" y="1117" text-anchor="middle">(per-Cell Log<tspan font-size="5.5" dy="2">2</tspan><tspan dy="-2">FC)</tspan></text>
</g>
<g id="n-profilers">
<ellipse cx="1171" cy="1166" rx="54" ry="31" fill="#fff" stroke="#6b2f93" stroke-width="4.5"/>
<text x="1171" y="1167" font-size="13" font-weight="bold" text-anchor="middle" class="p">Profilers</text>
<text x="1171" y="1177" font-size="8" text-anchor="middle" class="pl">(Unweighted)</text>
</g>
<g id="profiler-criteria" font-size="8.5" class="pl">
<text x="1167" y="1210" text-anchor="middle" class="pl">FDR p &lt; 0.05</text>
<text x="1167" y="1221" text-anchor="middle" class="pl"><tspan font-weight="bold" font-size="11">δ</tspan><tspan font-size="6" dy="2.5">Log2FC</tspan><tspan dy="-2.5"> &gt; 0.3 </tspan><tspan class="xs">x</tspan> <tspan font-weight="bold" font-size="11">σ</tspan><tspan font-size="6" dy="2.5">SSR</tspan></text>
<text x="1167" y="1235" text-anchor="middle" class="pl">Log<tspan font-size="6" dy="2">2</tspan><tspan dy="-2">FC &gt; 95% TI </tspan><tspan font-size="6" dy="2">SSR</tspan></text>
<text x="1167" y="1248" text-anchor="middle" class="pl">≥(N-1) <tspan font-style="italic">posthoc</tspan> p &lt; 0.05</text>
<text x="1167" y="1262" text-anchor="middle" class="pl">≥(N-1) <tspan font-style="italic">posthoc</tspan> Δ<tspan font-size="6" dy="2.5">Log2FC</tspan><tspan dy="-2.5"> &gt; 95% TI </tspan><tspan font-size="6" dy="2.5">SSR</tspan></text>
</g>
<g id="n-degrees">
<text x="1037" y="1173" font-size="13" font-weight="bold" text-anchor="middle" class="p">DEGREEs (weighted)</text>
<text x="1037" y="1183" font-size="8" text-anchor="middle" class="pl">≥(N-1) <tspan font-style="italic">posthoc</tspan> Δ<tspan font-size="6" dy="2.5">Log2FC</tspan><tspan dy="-2.5"> &gt; 95% TI </tspan><tspan font-size="6" dy="2.5">SSR</tspan></text>
</g>
<g id="n-nested">
<circle cx="1037" cy="1252" r="56" fill="#dadada" stroke="#666" stroke-width="1.5"/>
<circle cx="1037" cy="1248" r="48" fill="#a6a6a6"/>
<circle cx="1037" cy="1244" r="44" fill="#cdcdcd"/>
<circle cx="1037" cy="1231" r="33" fill="#8a8a8a"/>
<circle cx="1037" cy="1227" r="29" fill="#652d90"/>
</g>
<g id="n-degs">
<text x="1037" y="1327" font-size="13" font-weight="bold" text-anchor="middle" class="p">DEGs (weighted)</text>
<text x="1037" y="1338" font-size="8" text-anchor="middle" class="pl">≥(N-1) <tspan font-style="italic">posthoc</tspan> p &lt; 0.05</text>
</g>
</g>

<!-- ============ CAPTION ============ -->
<g id="caption">
<text class="cap" x="24" y="1540" textLength="1306" lengthAdjust="spacingAndGlyphs"><tspan font-weight="bold">FIGURE 2</tspan> | Depiction of expression matrix focusing by total per-gene and per-barcode coverage with the parametric P<tspan font-size="11" dy="3">C</tspan><tspan dy="-3">-P</tspan><tspan font-size="11" dy="3">D</tspan><tspan dy="-3"> mixture model. </tspan><tspan font-weight="bold">(A)</tspan> Sorted count data</text>
<text class="cap" x="24" y="1565.3" textLength="1272" lengthAdjust="spacingAndGlyphs">from scRNA-seq experiments exhibits transitions in total UMI counts per barcode, reminiscent of distinct regimes of UMI density between background (ambient</text>
<text class="cap" x="24" y="1590.6" textLength="1308" lengthAdjust="spacingAndGlyphs">noise), single-cell, and multi-cell barcodes; total UMI counts per gene exhibit an analogous profile, with distinct regimes between rare, facultative, and constitutively</text>
<text class="cap" x="24" y="1615.9" textLength="1283" lengthAdjust="spacingAndGlyphs">expressed genes. Latent patterns of expression within gene-cell matrices are most discriminative at the intersection of facultative genes and single-cell barcodes</text>
<text class="cap" x="24" y="1641.1" textLength="1316" lengthAdjust="spacingAndGlyphs">regimes, referred to as the focused expression matrix. To infer coverage regimes per barcode <tspan font-weight="bold">(B)</tspan> and per gene aligned <tspan font-weight="bold">(C)</tspan> from the raw gene-cell expression matrix,</text>
<text class="cap" x="24" y="1666.4" textLength="1302" lengthAdjust="spacingAndGlyphs">total UMI count data are fit to a 2-component mixture probabilistic parametric model; regime thresholds are defined systematically from estimated scale and shape</text>
<text class="cap" x="24" y="1691.7" textLength="1312" lengthAdjust="spacingAndGlyphs">parameters. <tspan font-weight="bold">(D)</tspan> Stratified differential expression analysis starting from a focused expression matrix in SALSA. The flow chart depicts transformations used in SALSA</text>
<text class="cap" x="24" y="1717" textLength="1216" lengthAdjust="spacingAndGlyphs">toward generalized linear modeling (GLM) of expression data, and statistical criteria to extract significant gene subsets with rising statistical stringency.</text>
</g>
</svg>
